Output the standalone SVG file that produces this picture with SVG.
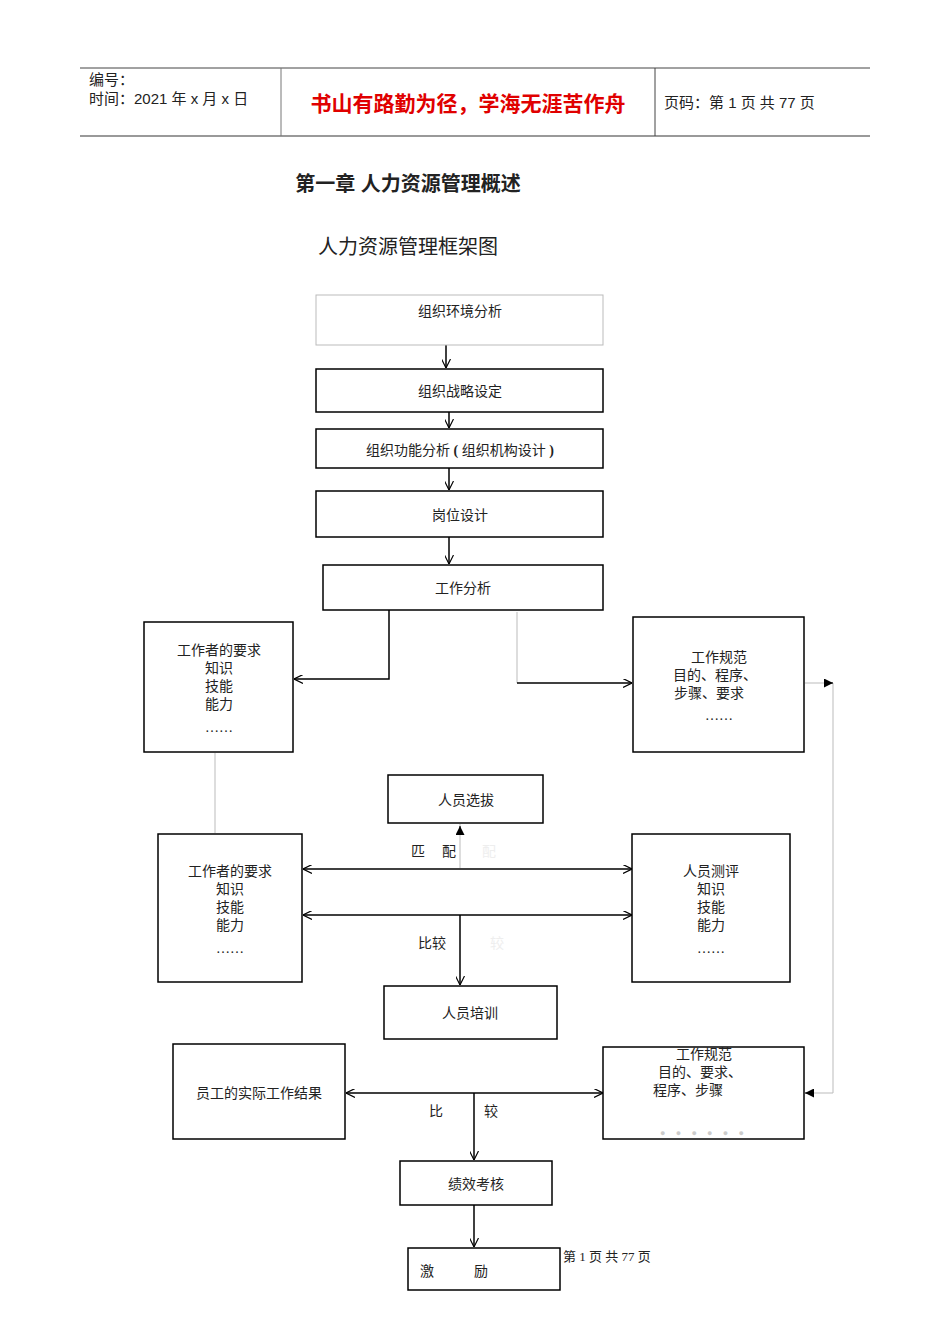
<svg xmlns="http://www.w3.org/2000/svg" width="950" height="1344" viewBox="0 0 950 1344">
<defs>
<style>
text{font-family:"Liberation Serif","Noto Sans CJK SC",serif;font-size:14px;fill:#222}
.h{font-family:"Liberation Sans","Noto Sans CJK SC",sans-serif;font-size:15px}
.red{font-size:21px;fill:#e00000;font-weight:bold}
.t1{font-size:20px;font-weight:bold}
.t2{font-size:20px}
.f{font-size:13px}
.b{fill:#fff;stroke:#000;stroke-width:1.5}
.c{fill:none;stroke:#000;stroke-width:1.5}
.g{fill:none;stroke:#bbb;stroke-width:1}
.m{text-anchor:middle}
</style>
<marker id="a" viewBox="0 0 10 10" refX="10" refY="5" markerWidth="9" markerHeight="9" orient="auto-start-reverse" markerUnits="userSpaceOnUse"><path d="M0,0L10,5L0,10" fill="none" stroke="#000" stroke-width="1.3"/></marker>
<marker id="t" viewBox="0 0 10 10" refX="10" refY="5" markerWidth="9" markerHeight="9" orient="auto" markerUnits="userSpaceOnUse"><path d="M0,0L10,5L0,10z" fill="#000"/></marker>
</defs>
<rect width="950" height="1344" fill="#fff"/>
<g id="header">
<line x1="80" y1="68" x2="870" y2="68" stroke="#444"/>
<line x1="80" y1="136" x2="870" y2="136" stroke="#777" stroke-width="1.5"/>
<line x1="281" y1="68" x2="281" y2="136" stroke="#777"/>
<line x1="655" y1="68" x2="655" y2="136" stroke="#444"/>
<text x="89" y="85" class="h">编号：</text>
<text x="89" y="104" class="h">时间：2021 年 x 月 x 日</text>
<text x="468" y="111" class="h m red">书山有路勤为径，学海无涯苦作舟</text>
<text x="664" y="108" class="h">页码：第 1 页  共 77 页</text>
</g>
<text x="408" y="191" class="h m t1">第一章    人力资源管理概述</text>
<text x="408" y="254" class="h m t2">人力资源管理框架图</text>
<g id="connectors">
<path class="c" d="M446,345V368" marker-end="url(#a)"/>
<path class="c" d="M449,412V428" marker-end="url(#a)"/>
<path class="c" d="M449,468V490" marker-end="url(#a)"/>
<path class="c" d="M449,537V564" marker-end="url(#a)"/>
<path class="c" d="M389,610V679H294" marker-end="url(#a)"/>
<path class="g" d="M517,612V683"/>
<path class="c" d="M517,683H632" marker-end="url(#a)"/>
<path class="g" d="M215,753V833"/>
<path class="g" d="M460,868V824"/>
<path d="M460,830V826" stroke="#000" marker-end="url(#t)"/>
<path class="c" d="M303,869H632" marker-start="url(#a)" marker-end="url(#a)"/>
<path class="c" d="M303,915H632" marker-start="url(#a)" marker-end="url(#a)"/>
<path class="c" d="M460,915V985" marker-end="url(#a)"/>
<path class="g" d="M805,683H833V1093H812"/>
<path d="M824,683H833" stroke="#000" marker-end="url(#t)"/>
<path d="M814,1093H805" stroke="#000" marker-end="url(#t)"/>
<path class="c" d="M346,1093H603" marker-start="url(#a)" marker-end="url(#a)"/>
<path class="c" d="M474,1093V1160" marker-end="url(#a)"/>
<path class="c" d="M474,1205V1247" marker-end="url(#a)"/>
</g>
<text x="411" y="856">匹</text><text x="442" y="856">配</text><text x="482" y="856" style="fill:#eee">配</text>
<text x="418" y="948">比较</text><text x="490" y="948" style="fill:#eee">较</text>
<text x="429" y="1116">比</text><text x="484" y="1116">较</text>
<g id="n1"><rect x="316" y="295" width="287" height="50" fill="#fff" stroke="#bbb"/><text x="460" y="316" class="m">组织环境分析</text></g>
<g id="n2"><rect class="b" x="316" y="369" width="287" height="43"/><text x="460" y="396" class="m">组织战略设定</text></g>
<g id="n3"><rect class="b" x="316" y="429" width="287" height="39"/><text x="460" y="455" class="m">组织功能分析  <tspan font-weight="bold">(</tspan> 组织机构设计 <tspan font-weight="bold">)</tspan></text></g>
<g id="n4"><rect class="b" x="316" y="491" width="287" height="46"/><text x="460" y="520" class="m">岗位设计</text></g>
<g id="n5"><rect class="b" x="323" y="565" width="280" height="45"/><text x="463" y="593" class="m">工作分析</text></g>
<g id="n6"><rect class="b" x="144" y="622" width="149" height="130"/><text class="m" x="219"><tspan x="219" y="655">工作者的要求</tspan><tspan x="219" y="673">知识</tspan><tspan x="219" y="691">技能</tspan><tspan x="219" y="709">能力</tspan><tspan x="219" y="732">……</tspan></text></g>
<g id="n7"><rect class="b" x="633" y="617" width="171" height="135"/><text class="m"><tspan x="719" y="662">工作规范</tspan><tspan x="715" y="680">目的、程序、</tspan><tspan x="709" y="698">步骤、要求</tspan><tspan x="719" y="720">……</tspan></text></g>
<g id="n8"><rect class="b" x="388" y="775" width="155" height="48"/><text x="466" y="805" class="m">人员选拔</text></g>
<g id="n9"><rect class="b" x="158" y="834" width="144" height="148"/><text class="m"><tspan x="230" y="876">工作者的要求</tspan><tspan x="230" y="894">知识</tspan><tspan x="230" y="912">技能</tspan><tspan x="230" y="930">能力</tspan><tspan x="230" y="953">……</tspan></text></g>
<g id="n10"><rect class="b" x="632" y="834" width="158" height="148"/><text class="m"><tspan x="711" y="876">人员测评</tspan><tspan x="711" y="894">知识</tspan><tspan x="711" y="912">技能</tspan><tspan x="711" y="930">能力</tspan><tspan x="711" y="953">……</tspan></text></g>
<g id="n11"><rect class="b" x="384" y="986" width="173" height="53"/><text x="470" y="1018" class="m">人员培训</text></g>
<g id="n12"><rect class="b" x="173" y="1044" width="172" height="95"/><text x="259" y="1098" class="m">员工的实际工作结果</text></g>
<g id="n13"><rect class="b" x="603" y="1047" width="201" height="92"/><text class="m"><tspan x="704" y="1059">工作规范</tspan><tspan x="700" y="1077">目的、要求、</tspan><tspan x="688" y="1095">程序、步骤</tspan></text><text x="704" y="1136" class="m" style="fill:#ccc;font-size:9px;letter-spacing:4px">● ● ● ● ● ●</text></g>
<g id="n14"><rect class="b" x="400" y="1161" width="152" height="44"/><text x="476" y="1189" class="m">绩效考核</text></g>
<g id="n15"><rect class="b" x="408" y="1248" width="152" height="42"/><text x="420" y="1276">激</text><text x="474" y="1276">励</text></g>
<text x="563" y="1261" class="f">第  1  页  共  77  页</text>
</svg>
